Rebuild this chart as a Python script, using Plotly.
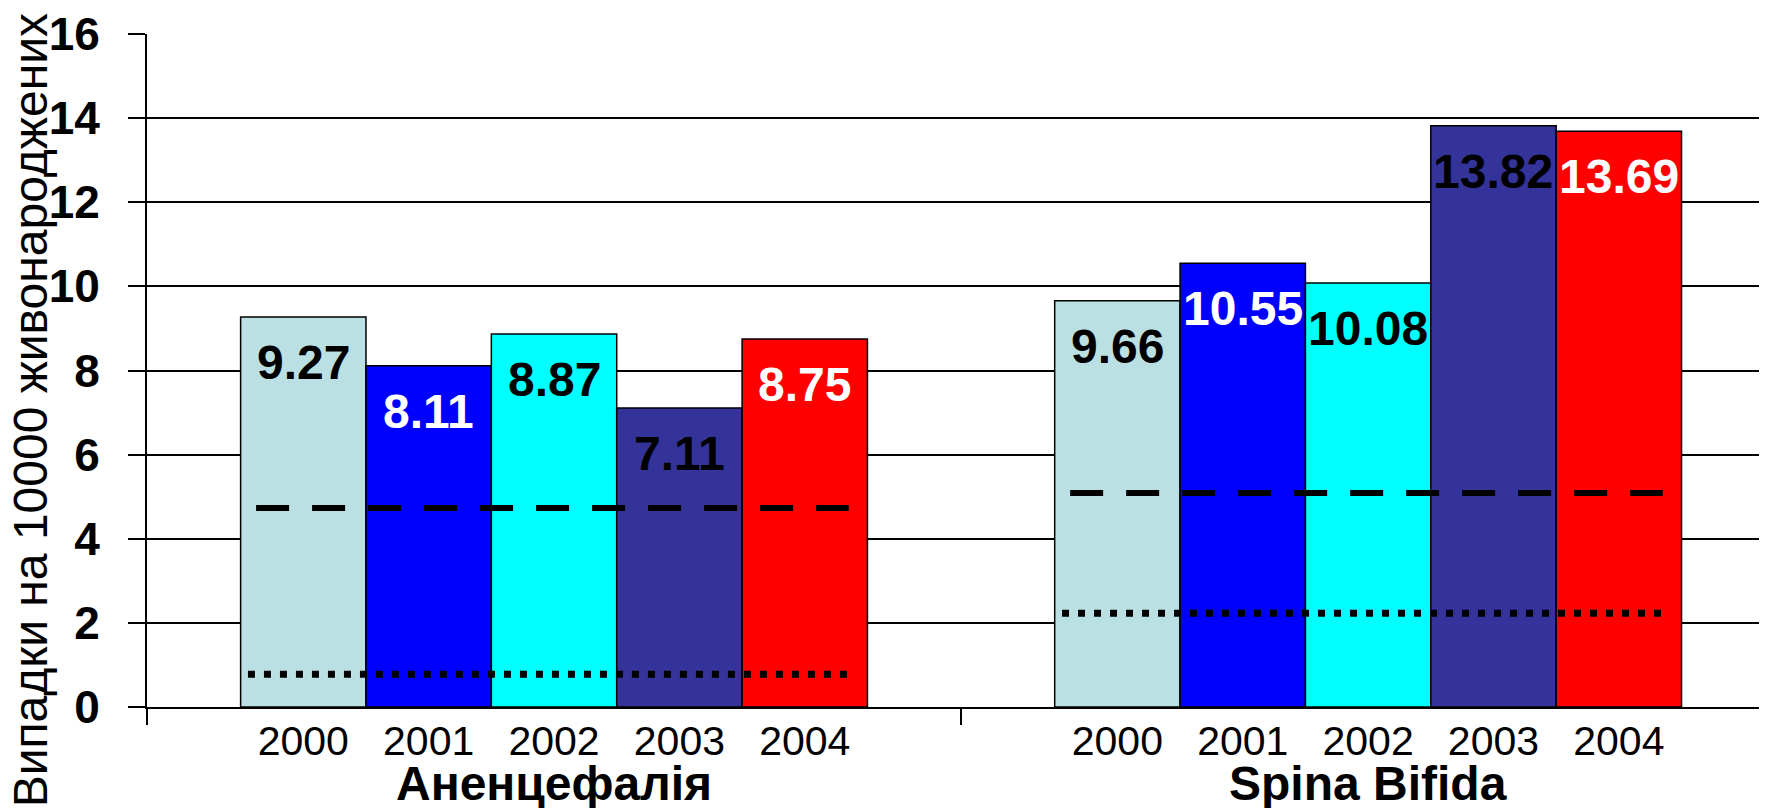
import plotly.graph_objects as go

# ---- data ----
groups = ["Аненцефалія", "Spina Bifida"]
years = ["2000", "2001", "2002", "2003", "2004"]
anencephaly = [9.27, 8.11, 8.87, 7.11, 8.75]
spina_bifida = [9.66, 10.55, 10.08, 13.82, 13.69]
dashed_level = [4.73, 5.09]
dotted_level = [0.78, 2.23]
y_tick_values = [0, 2, 4, 6, 8, 10, 12, 14, 16]
y_title = "Випадки на 10000 живонароджених"

# ---- styles ----
bar_colors = ["#BBE0E3", "#0000FF", "#00FFFF", "#333399", "#FF0000"]
label_colors = ["black", "white", "black", "black", "white"]
FONT = "Liberation Sans, Arial, sans-serif"
BARGAP = 0.23

# page body has an 8px margin; build the figure so it fills the 1767x808 window
BODY = 8
WIN_W, WIN_H = 1767, 808
W, H = WIN_W - BODY, WIN_H - BODY
y_range = [0, 16]
PLOT_L, PLOT_T, PLOT_B = 147, 31, 707           # window pixel coordinates
ML, MT, MR, MB = PLOT_L - BODY, PLOT_T - BODY, 0, WIN_H - PLOT_B
PW, PH = W - ML - MR, H - MT - MB
x_range = [-0.5, 1.49]


def px_to_paper_x(px):
    return (px - PLOT_L) / PW


def px_to_paper_y(py):
    return (PLOT_B - py) / PH


values_by_group = [anencephaly, spina_bifida]
group_pos = list(range(len(groups)))
n = len(years)
bar_w = (1 - BARGAP) / n

fig = go.Figure()
for yi, yr in enumerate(years):
    fig.add_trace(go.Bar(
        x=group_pos,
        y=[vals[yi] for vals in values_by_group],
        name=yr,
        marker=dict(color=bar_colors[yi], line=dict(color="black", width=1.5)),
        showlegend=False,
        hoverinfo="skip",
    ))

# reference lines
for gi, g in enumerate(group_pos):
    fig.add_trace(go.Scatter(
        x=[g - 0.366, g + 0.362], y=[dashed_level[gi]] * 2, mode="lines",
        line=dict(color="black", width=6, dash="33px,23px"),
        showlegend=False, hoverinfo="skip"))
    fig.add_trace(go.Scatter(
        x=[g - 0.376, g + 0.363], y=[dotted_level[gi]] * 2, mode="lines",
        line=dict(color="black", width=7, dash="7px,9px"),
        showlegend=False, hoverinfo="skip"))

annotations = []
tickvals, ticktext = [], []
for gi, g in enumerate(group_pos):
    for yi, yr in enumerate(years):
        cx = g + (yi - (n - 1) / 2) * bar_w
        tickvals.append(cx)
        ticktext.append(yr)
        v = values_by_group[gi][yi]
        annotations.append(dict(
            x=cx, y=v, xref="x", yref="y", text=f"{v:.2f}", showarrow=False,
            xanchor="center", yanchor="top", yshift=-17,
            font=dict(family=FONT, size=48, color=label_colors[yi], weight="bold")))
    annotations.append(dict(
        x=g, y=px_to_paper_y(784), xref="x", yref="paper",
        text=f"<b>{groups[gi]}</b>", showarrow=False,
        xanchor="center", yanchor="middle",
        font=dict(family=FONT, size=48, color="black")))

annotations.append(dict(
    x=px_to_paper_x(30), y=px_to_paper_y(409),
    xref="paper", yref="paper", text=y_title, textangle=-90, showarrow=False,
    xanchor="center", yanchor="middle",
    font=dict(family=FONT, size=48, color="black")))

fig.update_layout(
    width=W, height=H,
    margin=dict(l=ML, r=MR, t=MT, b=MB, pad=0),
    paper_bgcolor="white", plot_bgcolor="white",
    barmode="group", bargap=BARGAP, bargroupgap=0,
    annotations=annotations,
    font=dict(family=FONT, color="black"),
    xaxis=dict(
        range=x_range, tickmode="array", tickvals=tickvals, ticktext=ticktext,
        ticks="", showgrid=False, zeroline=False,
        showline=True, linecolor="black", linewidth=2,
        tickfont=dict(family=FONT, size=41, color="black"),
        ticklabelstandoff=-3, ticklabeloverflow="allow",
        minor=dict(tickmode="array", tickvals=[-0.5, 0.5], ticks="outside",
                   ticklen=16, tickwidth=2, tickcolor="black", showgrid=False),
    ),
    yaxis=dict(
        range=y_range, tickmode="array", tickvals=y_tick_values,
        ticktext=[str(t) for t in y_tick_values],
        ticks="outside", ticklen=17, tickwidth=2, tickcolor="black",
        showgrid=True, gridcolor="black", gridwidth=2, zeroline=False,
        showline=True, linecolor="black", linewidth=2,
        tickfont=dict(family=FONT, size=46, color="black", weight="bold"),
        ticklabelstandoff=19, ticklabeloverflow="allow",
    ),
)

fig.write_html("out.html")
